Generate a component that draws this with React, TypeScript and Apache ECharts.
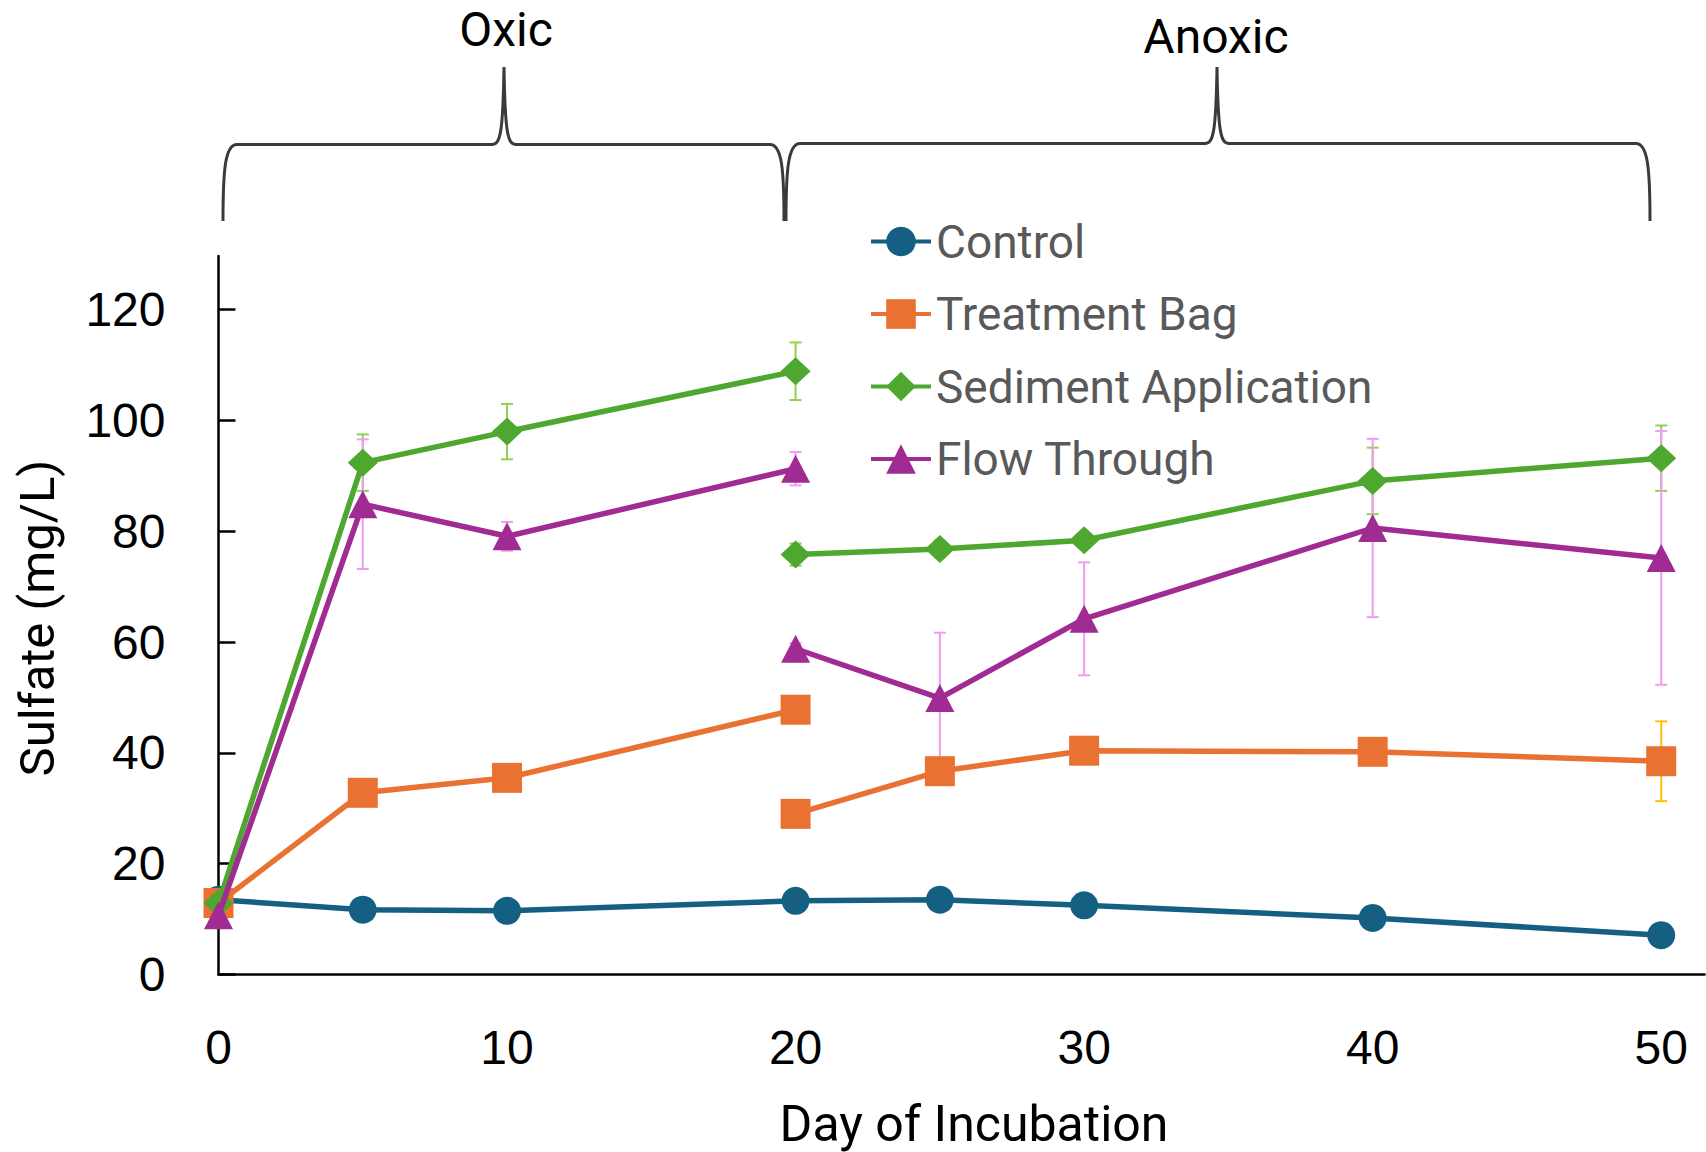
import React, { useEffect, useRef } from "react";
import * as echarts from "echarts";

// ---- data ----
const oxicDays = [0, 5, 10, 20];
const anoxicDays = [20, 25, 30, 40, 50];
const controlDays = [0, 5, 10, 20, 25, 30, 40, 50];

const controlValues = [13.5, 11.7, 11.5, 13.3, 13.5, 12.5, 10.2, 7.1];
const controlErrors = [0.4, 0.4, 0.4, 0.4, 0.4, 0.4, 0.4, 0.4];

const bagOxic = [12.9, 32.8, 35.5, 47.8];
const bagOxicErr = [1, 1.5, 1.5, 1.5];
const bagAnoxic = [29.0, 36.7, 40.4, 40.2, 38.5];
const bagAnoxicErr = [1, 1.5, 1.5, 1.5, 7.2];

const sedOxic = [12.9, 92.4, 98.0, 108.9];
const sedOxicErr = [0.5, 5.1, 5.0, 5.2];
const sedAnoxic = [75.8, 76.8, 78.4, 89.1, 93.2];
const sedAnoxicErr = [2, 1.5, 1, 6.0, 5.9];

const flowOxic = [10.7, 84.9, 79.1, 91.3];
const flowOxicErr = [0.5, 11.7, 2.6, 3.0];
const flowAnoxic = [58.8, 49.9, 64.2, 80.6, 75.2];
const flowAnoxicErr = [1, 11.8, 10.2, 16.1, 22.9];

const yTicks = [0, 20, 40, 60, 80, 100, 120];
const xTicks = [0, 10, 20, 30, 40, 50];
const seriesNames = ["Control", "Treatment Bag", "Sediment Application", "Flow Through"];
const phaseLabels = ["Oxic", "Anoxic"];
const xTitle = "Day of Incubation";
const yTitle = "Sulfate (mg/L)";

// ---- styles ----
const COLORS = ["#156082", "#E97132", "#4EA72E", "#A02B93"];
const ERR_COLORS = ["#4E95D9", "#FFC000", "#92D050", "#F09BF0"];
const SYMBOLS = ["circle", "rect", "diamond", "triangle"];
const SYMBOL_SIZES: any[] = [28, 30, [30, 28], [29, 28]];

const OXIC_BRACE =
  "M223,221 C223,170 225,144.5 237,144.5 L492,144.5 C500,144.5 503,135 504,67 C505,135 508,144.5 516,144.5 L770,144.5 C782,144.5 784,170 784,221";
const ANOXIC_BRACE =
  "M786,221 C786,170 788,143.5 800,143.5 L1205,143.5 C1213,143.5 1216,134 1217,67 C1218,134 1221,143.5 1229,143.5 L1636,143.5 C1648,143.5 1650,170 1650,221";

echarts.graphic.registerShape("oxicBrace", echarts.graphic.extendPath(OXIC_BRACE, {}));
echarts.graphic.registerShape("anoxicBrace", echarts.graphic.extendPath(ANOXIC_BRACE, {}));

function pairs(xs: number[], ys: number[]) {
  return xs.map((x, i) => [x, ys[i]]);
}
function triples(xs: number[], ys: number[], es: number[]) {
  return xs.map((x, i) => [x, ys[i], es[i]]);
}

function lineSeries(idx: number, xs: number[], ys: number[]) {
  return {
    type: "line",
    name: seriesNames[idx],
    data: pairs(xs, ys),
    symbol: SYMBOLS[idx],
    symbolSize: SYMBOL_SIZES[idx],
    showSymbol: true,
    color: COLORS[idx],
    lineStyle: { color: COLORS[idx], width: 5.5 },
    itemStyle: { color: COLORS[idx] },
    z: 3 + idx,
    emphasis: { disabled: true },
  };
}

function errorSeries(idx: number, xs: number[], ys: number[], es: number[]) {
  const color = ERR_COLORS[idx];
  return {
    type: "custom",
    name: seriesNames[idx] + " error",
    data: triples(xs, ys, es),
    encode: { x: 0, y: 1 },
    z: 2,
    silent: true,
    renderItem: (params: any, api: any) => {
      const x = api.value(0);
      const y = api.value(1);
      const e = api.value(2);
      const top = api.coord([x, y + e]);
      const bot = api.coord([x, y - e]);
      const hw = 6;
      const style = { stroke: color, lineWidth: 2 };
      return {
        type: "group",
        children: [
          { type: "line", shape: { x1: top[0], y1: top[1], x2: bot[0], y2: bot[1] }, style },
          { type: "line", shape: { x1: top[0] - hw, y1: top[1], x2: top[0] + hw, y2: top[1] }, style },
          { type: "line", shape: { x1: bot[0] - hw, y1: bot[1], x2: bot[0] + hw, y2: bot[1] }, style },
        ],
      };
    },
  };
}

export default function App() {
  const ref = useRef<HTMLDivElement>(null);

  useEffect(() => {
    if (!ref.current) return;
    const chart = echarts.init(ref.current, null, { renderer: "svg" });

    const option: any = {
      animation: false,
      backgroundColor: "#ffffff",
      grid: { left: 218.5, right: 1.5, top: 256, bottom: 177.5, containLabel: false },
      xAxis: {
        type: "value",
        min: 0,
        max: 51.5,
        interval: 10,
        splitLine: { show: false },
        axisLine: { show: true, onZero: false, lineStyle: { color: "#000", width: 2.5 } },
        axisTick: { show: false },
        axisLabel: {
          customValues: xTicks,
          margin: 49,
          fontSize: 48,
          fontFamily: "Liberation Sans",
          color: "#000",
          formatter: (v: number) => (xTicks.indexOf(v) >= 0 ? String(v) : ""),
        },
      },
      yAxis: {
        type: "value",
        min: 0,
        max: 129.7,
        interval: 20,
        splitLine: { show: false },
        axisLine: { show: true, lineStyle: { color: "#000", width: 2.5 } },
        axisTick: {
          show: true,
          inside: true,
          length: 17,
          customValues: yTicks,
          lineStyle: { color: "#000", width: 2.5 },
        },
        axisLabel: {
          customValues: yTicks,
          margin: 53,
          fontSize: 48,
          fontFamily: "Liberation Sans",
          color: "#000",
          formatter: (v: number) => (yTicks.indexOf(v) >= 0 ? String(v) : ""),
        },
      },
      legend: {
        data: seriesNames,
        orient: "vertical",
        left: 869,
        top: 218.5,
        itemWidth: 60,
        itemHeight: 37,
        itemGap: 26.5,
        padding: 0,
        selectedMode: false,
        lineStyle: { width: 4 },
        textStyle: {
          fontFamily: "Roboto",
          fontSize: 46,
          color: "#595959",
          lineHeight: 37,
        },
      },
      graphic: [
        {
          type: "oxicBrace",
          silent: true,
          style: { stroke: "#3a3a3a", lineWidth: 3, fill: "none" },
        },
        {
          type: "anoxicBrace",
          silent: true,
          style: { stroke: "#3a3a3a", lineWidth: 3, fill: "none" },
        },
        {
          type: "text",
          x: 506,
          y: 29,
          silent: true,
          style: {
            text: phaseLabels[0],
            fontFamily: "Roboto",
            fontSize: 48,
            fill: "#000",
            align: "center",
            verticalAlign: "middle",
          },
        },
        {
          type: "text",
          x: 1216,
          y: 36,
          silent: true,
          style: {
            text: phaseLabels[1],
            fontFamily: "Roboto",
            fontSize: 48,
            fill: "#000",
            align: "center",
            verticalAlign: "middle",
          },
        },
        {
          type: "text",
          x: 974,
          y: 1124,
          silent: true,
          style: {
            text: xTitle,
            fontFamily: "Roboto",
            fontSize: 50,
            fill: "#000",
            align: "center",
            verticalAlign: "middle",
          },
        },
        {
          type: "text",
          x: 37,
          y: 618,
          rotation: Math.PI / 2,
          silent: true,
          style: {
            text: yTitle,
            fontFamily: "Roboto",
            fontSize: 49,
            fill: "#000",
            align: "center",
            verticalAlign: "middle",
          },
        },
      ],
      series: [
        errorSeries(0, controlDays, controlValues, controlErrors),
        errorSeries(1, oxicDays, bagOxic, bagOxicErr),
        errorSeries(1, anoxicDays, bagAnoxic, bagAnoxicErr),
        errorSeries(2, oxicDays, sedOxic, sedOxicErr),
        errorSeries(2, anoxicDays, sedAnoxic, sedAnoxicErr),
        errorSeries(3, oxicDays, flowOxic, flowOxicErr),
        errorSeries(3, anoxicDays, flowAnoxic, flowAnoxicErr),
        lineSeries(0, controlDays, controlValues),
        lineSeries(1, oxicDays, bagOxic),
        lineSeries(1, anoxicDays, bagAnoxic),
        lineSeries(2, oxicDays, sedOxic),
        lineSeries(2, anoxicDays, sedAnoxic),
        lineSeries(3, oxicDays, flowOxic),
        lineSeries(3, anoxicDays, flowAnoxic),
      ],
    };

    chart.setOption(option);
    return () => chart.dispose();
  }, []);

  return (
    <div
      ref={ref}
      style={{ position: "fixed", left: 0, top: 0, width: 1706, height: 1152, background: "#fff" }}
    />
  );
}
